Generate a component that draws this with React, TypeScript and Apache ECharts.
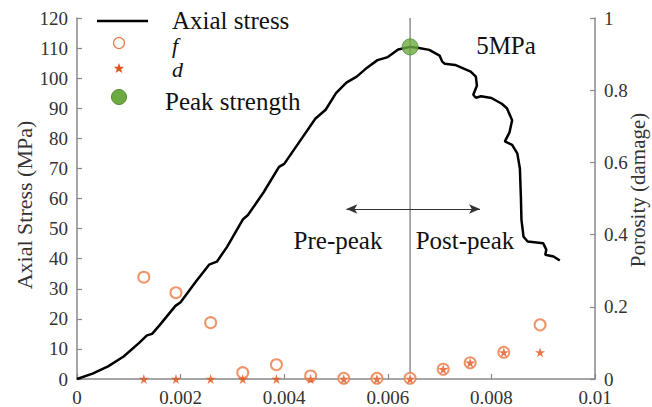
import React, { useEffect, useRef } from "react";
import * as echarts from "echarts";

// Axial stress curve (strain, MPa)
const curveStrain = [
  0, 0.0003, 0.0006, 0.0009, 0.0012, 0.00135, 0.00145, 0.0016, 0.0019, 0.002,
  0.0023, 0.00255, 0.0027, 0.0029, 0.0032, 0.0033, 0.0036, 0.0039, 0.004, 0.0043,
  0.0046, 0.0048, 0.005, 0.0052, 0.0054, 0.0056, 0.0058, 0.006, 0.0062, 0.00643,
  0.0066, 0.0068, 0.007, 0.00705, 0.0071, 0.0073, 0.0076, 0.0077, 0.00772, 0.00765,
  0.0077, 0.0078, 0.008, 0.0082, 0.0083, 0.0084, 0.00835, 0.00826, 0.0084, 0.0085,
  0.00855, 0.00857, 0.00858, 0.00862, 0.0087, 0.009, 0.00906, 0.00904, 0.0092, 0.00932,
];
const curveStress = [
  0, 1.8, 4.2, 7.5, 12.0, 14.5, 15.0, 18, 24.3, 25.5,
  32.5, 38, 39, 44, 53, 54.5, 62, 70.5, 71.5, 79,
  86.5, 89.5, 95, 98.5, 100.5, 103.5, 106, 107, 109.5, 110.4,
  110, 109.4, 107.5, 105.5, 104.8, 104.4, 102.2, 100.5, 97.5, 94.5,
  93.5, 94, 93.4, 91.5, 90, 86, 82, 79, 77.8, 75,
  70, 60, 53, 47.3, 45.7, 45.1, 43, 41.3, 40.7, 39.4,
];

// Porosity f (right axis)
const fStrain = [0.00129, 0.00191, 0.00258, 0.0032, 0.00385, 0.00451, 0.00515, 0.00579, 0.00643, 0.00707, 0.00759, 0.00824, 0.00894];
const fValues = [0.282, 0.239, 0.156, 0.0175, 0.0396, 0.0083, 0.002, 0.002, 0.002, 0.027, 0.045, 0.074, 0.15];

// Damage d (right axis)
const dStrain = [0.00129, 0.00191, 0.00258, 0.0032, 0.00385, 0.00451, 0.00515, 0.00579, 0.00643, 0.00707, 0.00759, 0.00824, 0.00894];
const dValues = [0, 0, 0, 0, 0, 0, 0, 0, 0, 0.027, 0.045, 0.074, 0.074];

// Peak strength
const peakStrain = 0.00643;
const peakStress = 110.4;

// Arrow annotation
const arrowFrom = 0.0052;
const arrowTo = 0.00778;
const arrowLevel = 56.5;

const FONT = "Liberation Serif";
const ORANGE = "#EC7B45";
const STAR_RED = "#E0561F";
const GREEN = "#6DAB42";
const STAR_PATH =
  "path://M50,0 L61,35 L98,35 L68,57 L79,91 L50,70 L21,91 L32,57 L2,35 L39,35 Z";

function starPoints(cx: number, cy: number, R: number, r: number) {
  const pts: number[][] = [];
  for (let i = 0; i < 10; i++) {
    const a = -Math.PI / 2 + (i * Math.PI) / 5;
    const rad = i % 2 === 0 ? R : r;
    pts.push([cx + rad * Math.cos(a), cy + rad * Math.sin(a)]);
  }
  return pts;
}

export default function App() {
  const ref = useRef<HTMLDivElement>(null);
  useEffect(() => {
    if (!ref.current) return;
    document.body.style.margin = "0";
    document.body.style.overflow = "hidden";
    const chart = echarts.init(ref.current, undefined, { renderer: "svg" });
    const axisLabel = { color: "#333", fontFamily: FONT, fontSize: 19 };
    const mkLine = () => ({ show: true, lineStyle: { color: "#888", width: 1.5 } });
    const mkTick = () => ({ show: true, inside: true, length: 5, lineStyle: { color: "#888", width: 1.2 } });
    const legendText = (x: number, y: number, text: string, size: number, italic = false) => ({
      type: "text",
      x,
      y,
      style: {
        text,
        font: `${italic ? "italic " : ""}${size}px '${FONT}'`,
        fill: "#111",
        verticalAlign: "middle",
      },
    });
    chart.setOption({
      animation: false,
      backgroundColor: "#fff",
      grid: { left: 77, right: 57, top: 18, bottom: 28, containLabel: false, outerBoundsMode: "none" },
      xAxis: {
        type: "value",
        min: 0,
        max: 0.01,
        interval: 0.002,
        axisLine: mkLine(),
        axisTick: mkTick(),
        axisLabel: { ...axisLabel, margin: 9 },
        splitLine: { show: false },
      },
      yAxis: [
        {
          type: "value",
          min: 0,
          max: 120,
          interval: 10,
          axisLine: mkLine(),
          axisTick: mkTick(),
          axisLabel: { ...axisLabel, margin: 9 },
          splitLine: { show: false },
        },
        {
          type: "value",
          min: 0,
          max: 1,
          interval: 0.2,
          position: "right",
          axisLine: mkLine(),
          axisTick: mkTick(),
          axisLabel: { ...axisLabel, margin: 9 },
          splitLine: { show: false },
        },
      ],
      series: [
        {
          name: "Peak line",
          type: "line",
          yAxisIndex: 0,
          data: [
            [peakStrain, 0],
            [peakStrain, 120],
          ],
          showSymbol: false,
          silent: true,
          lineStyle: { color: "#555", width: 1 },
          z: 2,
          markLine: {
            silent: true,
            animation: false,
            label: { show: false },
            symbol: ["arrow", "arrow"],
            symbolSize: [7, 11],
            lineStyle: { color: "#333", width: 1, type: "solid" },
            data: [[{ coord: [arrowFrom, arrowLevel] }, { coord: [arrowTo, arrowLevel] }]],
          },
        },
        {
          name: "Axial stress",
          type: "line",
          yAxisIndex: 0,
          data: curveStrain.map((x, i) => [x, curveStress[i]]),
          showSymbol: false,
          lineStyle: { color: "#000", width: 2.5 },
          z: 3,
        },
        {
          name: "f",
          type: "scatter",
          yAxisIndex: 1,
          data: fStrain.map((x, i) => [x, fValues[i]]),
          symbol: "emptyCircle",
          symbolSize: 11,
          itemStyle: { color: ORANGE, borderColor: ORANGE, borderWidth: 1.2 },
          z: 4,
        },
        {
          name: "d",
          type: "scatter",
          yAxisIndex: 1,
          data: dStrain.map((x, i) => [x, dValues[i]]),
          symbol: STAR_PATH,
          symbolSize: 10,
          itemStyle: { color: STAR_RED },
          z: 5,
        },
        {
          name: "Peak strength",
          type: "scatter",
          yAxisIndex: 0,
          data: [[peakStrain, peakStress]],
          symbol: "circle",
          symbolSize: 16,
          itemStyle: { color: GREEN, borderColor: "#4E8A2E", borderWidth: 1 },
          z: 6,
        },
      ],
      graphic: [
        { type: "line", shape: { x1: 97, y1: 21, x2: 148, y2: 21 }, style: { stroke: "#000", lineWidth: 2.5 } },
        legendText(172, 20, "Axial stress", 25),
        { type: "circle", shape: { cx: 119, cy: 43, r: 5.5 }, style: { stroke: ORANGE, fill: "none", lineWidth: 1.2 } },
        legendText(172, 45, "f", 22, true),
        { type: "polygon", shape: { points: starPoints(119, 68.5, 5.5, 2.3) }, style: { fill: STAR_RED } },
        legendText(172, 69, "d", 22, true),
        { type: "circle", shape: { cx: 119, cy: 97, r: 7.5 }, style: { fill: GREEN, stroke: "#4E8A2E", lineWidth: 1 } },
        legendText(165, 101, "Peak strength", 25),
        { type: "text", x: 506, y: 45, style: { text: "5MPa", font: `25px '${FONT}'`, fill: "#111", align: "center", verticalAlign: "middle" } },
        { type: "text", x: 338, y: 240, style: { text: "Pre-peak", font: `25px '${FONT}'`, fill: "#111", align: "center", verticalAlign: "middle" } },
        { type: "text", x: 465, y: 240, style: { text: "Post-peak", font: `25px '${FONT}'`, fill: "#111", align: "center", verticalAlign: "middle" } },
        {
          type: "text",
          x: 24,
          y: 205,
          rotation: Math.PI / 2,
          style: { text: "Axial Stress (MPa)", font: `22px '${FONT}'`, fill: "#333", align: "center", verticalAlign: "middle" },
        },
        {
          type: "text",
          x: 638,
          y: 190,
          rotation: Math.PI / 2,
          style: { text: "Porosity (damage)", font: `21px '${FONT}'`, fill: "#333", align: "center", verticalAlign: "middle" },
        },
      ],
    });
    return () => chart.dispose();
  }, []);
  return <div ref={ref} style={{ width: 652, height: 407, position: "absolute", left: 0, top: 0 }} />;
}
